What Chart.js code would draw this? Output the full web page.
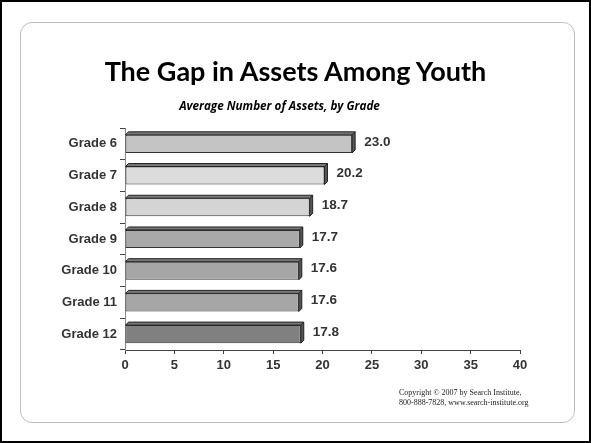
<!DOCTYPE html>
<html>
<head>
<meta charset="utf-8">
<script src="https://cdn.jsdelivr.net/npm/chart.js@4"></script>
<style>
  html, body { margin: 0; padding: 0; background: #fff; }
  #page { position: relative; width: 591px; height: 443px; box-sizing: border-box; border: 2px solid #000; overflow: hidden; }
  #card { position: absolute; left: 18px; top: 20px; width: 553px; height: 399px; border: 1px solid #bdbdbd; border-radius: 12px; }
  #title { position: absolute; left: 0; width: 587px; top: 52px; text-align: center; font: bold 27px Lato, "Open Sans", sans-serif; color: #000; }
  #subtitle { position: absolute; left: -16px; width: 587px; top: 95px; text-align: center; font: italic bold 11.7px "Open Sans", sans-serif; color: #000; }
  #copy { position: absolute; left: 397px; top: 386px; font: 8px "Liberation Serif", serif; line-height: 10px; color: #222; }
  canvas { position: absolute; left: -2px; top: -2px; }
</style>
</head>
<body>
<div id="page">
  <div id="card"></div>
  <canvas id="gapChart" width="591" height="443"></canvas>
  <div id="title">The Gap in Assets Among Youth</div>
  <div id="subtitle">Average Number of Assets, by Grade</div>
  <div id="copy">Copyright © 2007 by Search Institute,<br>800-888-7828, www.search-institute.org</div>
</div>
<script>
var grades = ["Grade 6", "Grade 7", "Grade 8", "Grade 9", "Grade 10", "Grade 11", "Grade 12"];
var assets = [23.0, 20.2, 18.7, 17.7, 17.6, 17.6, 17.8];
var barColors = ["#c4c4c4", "#dcdcdc", "#d4d4d4", "#a9a9a9", "#a6a6a6", "#a6a6a6", "#808080"];
var xTicks = [0, 5, 10, 15, 20, 25, 30, 35, 40];

// fake 3D: dark right face + top face, then the value label
var bars3d = {
  id: "bars3d",
  afterDatasetsDraw: function (chart) {
    var ctx = chart.ctx;
    var meta = chart.getDatasetMeta(0);
    ctx.save();
    meta.data.forEach(function (bar, i) {
      var h = bar.height / 2;
      var top = bar.y - h, bottom = bar.y + h;
      var d = 3;
      ctx.fillStyle = "#555";
      ctx.strokeStyle = "#222";
      ctx.lineWidth = 1;
      ctx.beginPath();
      ctx.moveTo(bar.x, top);
      ctx.lineTo(bar.x + d, top - d);
      ctx.lineTo(bar.x + d, bottom - d);
      ctx.lineTo(bar.x, bottom);
      ctx.closePath();
      ctx.fill();
      ctx.stroke();
      ctx.fillStyle = "#777";
      ctx.beginPath();
      ctx.moveTo(bar.base, top);
      ctx.lineTo(bar.base + d, top - d);
      ctx.lineTo(bar.x + d, top - d);
      ctx.lineTo(bar.x, top);
      ctx.closePath();
      ctx.fill();
      ctx.stroke();

      ctx.fillStyle = "#333";
      ctx.font = "bold 13.5px 'Liberation Sans', Arial, sans-serif";
      ctx.textAlign = "left";
      ctx.textBaseline = "middle";
      ctx.fillText(assets[i].toFixed(1), bar.x + 12, bar.y - 2);
    });
    ctx.restore();
  }
};

new Chart(document.getElementById("gapChart"), {
  type: "bar",
  data: {
    labels: grades,
    datasets: [{
      data: assets,
      backgroundColor: barColors,
      borderColor: "#333",
      borderWidth: 1,
      borderSkipped: false,
      categoryPercentage: 1,
      barPercentage: 0.57
    }]
  },
  options: {
    indexAxis: "y",
    responsive: false,
    animation: false,
    layout: { padding: { left: 0, right: 71, top: 128, bottom: 73 } },
    plugins: { legend: { display: false }, tooltip: { enabled: false } },
    scales: {
      x: {
        min: 0,
        max: 40,
        afterBuildTicks: function (scale) {
          scale.ticks = xTicks.map(function (v) { return { value: v }; });
        },
        afterFit: function (scale) { scale.height = 20; },
        grid: { drawOnChartArea: false, tickLength: 4, color: "#444" },
        border: { color: "#444" },
        ticks: { color: "#333", padding: 4, font: { family: "'Liberation Sans', Arial", weight: "bold", size: 13 } }
      },
      y: {
        afterFit: function (scale) { scale.width = 125; },
        grid: { offset: true, drawOnChartArea: false, tickLength: 5, color: "#444" },
        border: { color: "#888" },
        ticks: { color: "#333", padding: 3, font: { family: "'Liberation Sans', Arial", weight: "bold", size: 13 } }
      }
    }
  },
  plugins: [bars3d]
});
</script>
</body>
</html>
